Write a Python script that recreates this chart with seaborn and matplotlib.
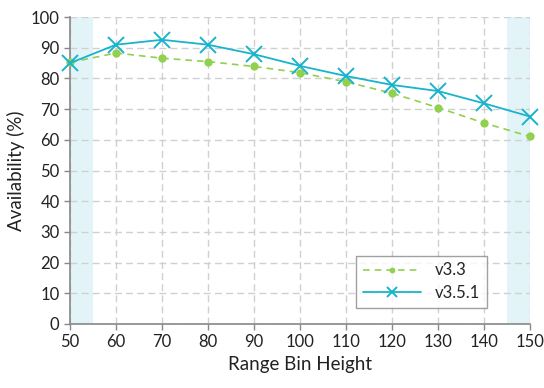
import matplotlib
matplotlib.use("Agg")
import matplotlib.pyplot as plt
import seaborn as sns
import pandas as pd

x_vals = [50, 60, 70, 80, 90, 100, 110, 120, 130, 140, 150]
v33 = [85.2, 88.3, 86.6, 85.5, 83.9, 81.9, 78.9, 75.2, 70.5, 65.5, 61.1]
v351 = [85.0, 91.0, 92.6, 91.0, 87.9, 84.1, 80.8, 77.9, 75.9, 71.9, 67.6]
series_names = ["v3.3", "v3.5.1"]
shade_ranges = [(50, 55), (145, 150)]

sns.set_theme(style="white")
plt.rcParams['font.family'] = ['Lato', 'DejaVu Sans']

df = pd.DataFrame({
    "x": x_vals * 2,
    "y": v33 + v351,
    "series": [series_names[0]] * len(x_vals) + [series_names[1]] * len(x_vals),
})

fig = plt.figure(figsize=(5.44, 3.88), dpi=100)
ax = fig.add_axes([0.1287, 0.165, 0.8453, 0.791])

for a, b in shade_ranges:
    ax.axvspan(a, b, color="#e3f4f8", zorder=0, lw=0)

green = "#92d050"
blue = "#18b4cc"
sns.lineplot(data=df[df.series == "v3.3"], x="x", y="y", ax=ax, color=green,
             linestyle=(0, (4, 3)), marker="o", markersize=6, markeredgewidth=0,
             markerfacecolor=green, markeredgecolor=green,
             lw=1.2, label="v3.3", zorder=3, clip_on=False)
sns.lineplot(data=df[df.series == "v3.5.1"], x="x", y="y", ax=ax, color=blue,
             linestyle="-", marker="x", markersize=11, markeredgewidth=1.4,
             markeredgecolor=blue, markerfacecolor=blue,
             lw=1.3, label="v3.5.1", zorder=4, clip_on=False)

ax.set_xlim(50, 150)
ax.set_ylim(0, 100)
ax.set_xticks(x_vals)
ax.set_yticks(range(0, 101, 10))
ax.grid(True, color="#d0d0d0", linestyle=(0, (5, 3)), lw=1.0)
ax.set_axisbelow(True)
for s in ["top", "right"]:
    ax.spines[s].set_visible(False)
for s in ["left", "bottom"]:
    ax.spines[s].set_color("#888888")
    ax.spines[s].set_linewidth(1.2)
ax.tick_params(axis="both", colors="#888888", labelcolor="#222222",
               direction="out", length=4, width=1, labelsize=12, bottom=True, left=True)
ax.set_xlabel("Range Bin Height", fontsize=13.5, color="#222222")
ax.set_ylabel("Availability (%)", fontsize=13.5, color="#222222")

leg = ax.legend(loc="lower right", bbox_to_anchor=(0.924, 0.026), frameon=True,
                fancybox=False, fontsize=12, handlelength=3.5, borderpad=0.4,
                labelspacing=0.4, markerscale=0.7)
leg.get_frame().set_edgecolor("#888888")
leg.get_frame().set_linewidth(1.0)

fig.savefig("out.png", dpi=100)
